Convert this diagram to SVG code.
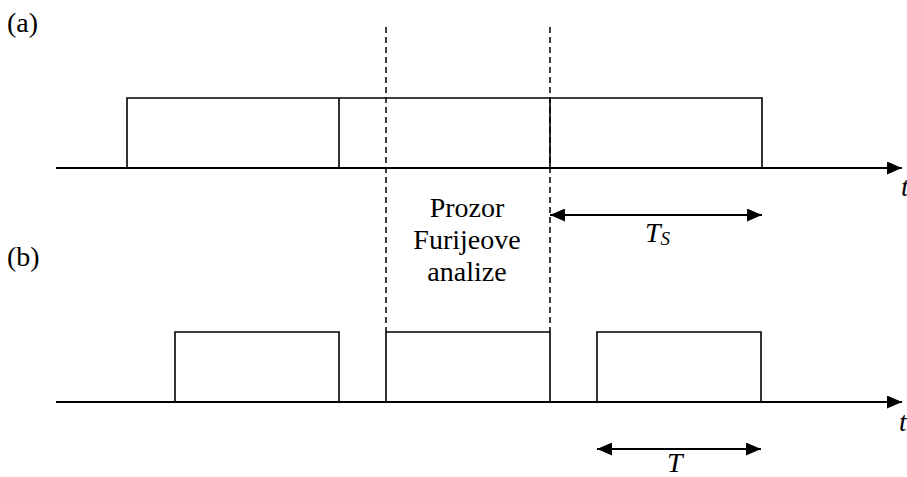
<svg xmlns="http://www.w3.org/2000/svg" width="907" height="477" viewBox="0 0 907 477">
<style>
.lbl{font-family:'Liberation Serif','Times New Roman',serif;font-size:28px;fill:#000}
.it{font-family:'Liberation Serif','Times New Roman',serif;font-style:italic;font-size:28px;fill:#000}
.axis{stroke:#000;stroke-width:2.2;fill:none}
.pulse{stroke:#000;stroke-width:1.6;fill:none}
.dash{stroke:#000;stroke-width:1.5;stroke-dasharray:6,4;fill:none}
.dim{stroke:#000;stroke-width:2;fill:none}
</style>
<defs>
<marker id="ah" markerWidth="15" markerHeight="13" refX="15" refY="6.5" orient="auto" markerUnits="userSpaceOnUse">
<path d="M0,0 L15,6.5 L0,13 Z" fill="#000"/>
</marker>
<marker id="as" markerWidth="15" markerHeight="13" refX="0" refY="6.5" orient="auto" markerUnits="userSpaceOnUse">
<path d="M15,0 L0,6.5 L15,13 Z" fill="#000"/>
</marker>
</defs>
<g id="label-a"><text class="lbl" x="7" y="31.5">(a)</text></g>
<g id="label-b"><text class="lbl" x="7" y="266">(b)</text></g>
<g id="signal-a">
<path class="pulse" d="M127,168 V98 H762 V168 M339,98 V168 M550,98 V168"/>
</g>
<g id="signal-b">
<path class="pulse" d="M175,402 V332 H339 V402 M386,402 V332 H550 V402 M597,402 V332 H761 V402"/>
</g>
<g id="window">
<line class="dash" x1="386" y1="27" x2="386" y2="332"/>
<line class="dash" x1="550" y1="27" x2="550" y2="332"/>
<text class="lbl" text-anchor="middle" x="467" y="217">Prozor</text>
<text class="lbl" text-anchor="middle" x="467" y="248.5">Furijeove</text>
<text class="lbl" text-anchor="middle" x="467" y="280.5">analize</text>
</g>
<g id="connectors">
<line class="axis" x1="56" y1="168" x2="902" y2="168" marker-end="url(#ah)"/>
<line class="axis" x1="56" y1="402" x2="902" y2="402" marker-end="url(#ah)"/>
<line class="dim" x1="550" y1="215" x2="762" y2="215" marker-start="url(#as)" marker-end="url(#ah)"/>
<line class="dim" x1="597" y1="449" x2="761" y2="449" marker-start="url(#as)" marker-end="url(#ah)"/>
</g>
<g id="axis-labels">
<text class="it" x="901" y="196">t</text>
<text class="it" x="899" y="431">t</text>
<text class="it" x="645" y="242">T<tspan font-size="19" dy="3">S</tspan></text>
<text class="it" x="667" y="472">T</text>
</g>
</svg>
